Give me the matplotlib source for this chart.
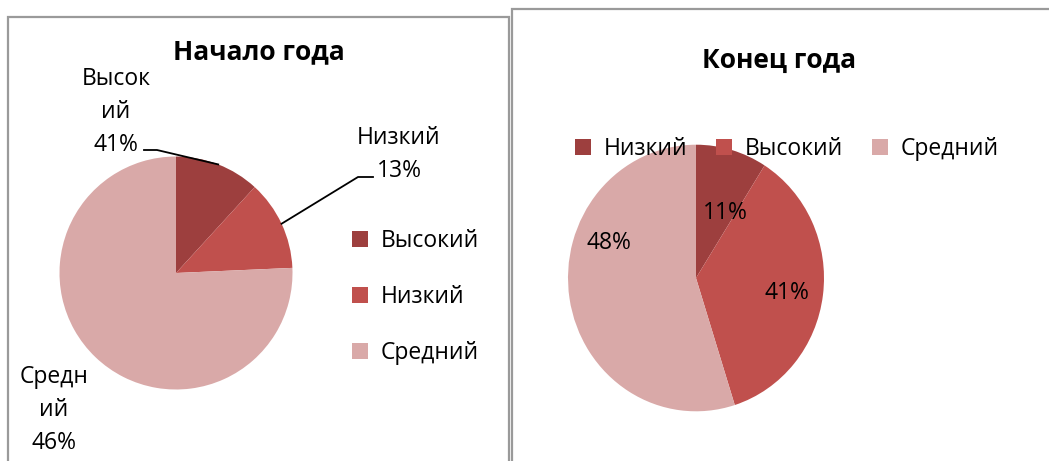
import matplotlib
matplotlib.use("Agg")
import matplotlib.pyplot as plt
from matplotlib.patches import Rectangle
import numpy as np

plt.rcParams['font.family'] = ['Open Sans', 'DejaVu Sans']

W, H = 1049, 461

# left chart: "Начало года"
start_title = "Начало года"
start_cats = ["Высокий", "Низкий", "Средний"]
start_share = [11.8, 12.5, 75.7]          # slice sizes as drawn
start_labels = ["Высок\nий\n41%", "Низкий\n13%", "Средн\nий\n46%"]

# right chart: "Конец года"
end_title = "Конец года"
end_cats = ["Низкий", "Высокий", "Средний"]
end_share = [9.0, 36.1, 54.9]             # slice sizes as drawn
end_labels = ["11%", "41%", "48%"]

colors = ["#9d3f3e", "#c0504d", "#d9a9a8"]


def fx(x):
    return x / W


def fy(y):
    return 1 - y / H


fig = plt.figure(figsize=(W / 100, H / 100), dpi=100)

# panel borders
fig.patches.append(Rectangle((fx(8), fy(470)), fx(509) - fx(8), fy(17) - fy(470),
                             transform=fig.transFigure, fill=False,
                             edgecolor="#9a9a9a", lw=1.6))
fig.patches.append(Rectangle((fx(512), fy(470)), fx(1060) - fx(512), fy(9) - fy(470),
                             transform=fig.transFigure, fill=False,
                             edgecolor="#9a9a9a", lw=1.6))

lab_fs = 16.5
title_fs = 19

# ---- left pie
cx1, cy1, r1 = 176, 273, 116.5
ax1 = fig.add_axes([fx(cx1 - r1), fy(cy1 + r1), 2 * r1 / W, 2 * r1 / H])
w1, _ = ax1.pie(start_share, colors=colors, startangle=90, counterclock=False,
                wedgeprops=dict(linewidth=0))
ax1.set_xlim(-1, 1)
ax1.set_ylim(-1, 1)
ax1.set_aspect("auto")


def p1(x, y):
    return (x - cx1) / r1, (cy1 - y) / r1


# leader lines end at the middle of each slice's rim
leaders = {0: [(144, 150), (157, 150)], 1: [(373, 177), (358, 177)]}
for i, pts in leaders.items():
    th = np.deg2rad((w1[i].theta1 + w1[i].theta2) / 2)
    xs = [p1(*p)[0] for p in pts] + [np.cos(th)]
    ys = [p1(*p)[1] for p in pts] + [np.sin(th)]
    ax1.plot(xs, ys, color="black", lw=1.3, clip_on=False)

fig.text(fx(116), fy(112), start_labels[0], ha="center", va="center",
         fontsize=lab_fs, linespacing=1.5)
fig.text(fx(399), fy(154), start_labels[1], ha="center", va="center",
         fontsize=lab_fs, linespacing=1.5)
fig.text(fx(54), fy(410), start_labels[2], ha="center", va="center",
         fontsize=lab_fs, linespacing=1.5)

fig.text(fx(259), fy(52), start_title, ha="center", va="center",
         fontsize=title_fs, fontweight="bold")

ax1.legend(w1, start_cats, loc="center left",
           bbox_to_anchor=(fx(352), fy(297)), bbox_transform=fig.transFigure,
           frameon=False, fontsize=lab_fs, borderpad=0, borderaxespad=0,
           handlelength=0.68, handleheight=0.68, handletextpad=0.58,
           labelspacing=1.39)

# ---- right pie
cx2, cy2, rx2, ry2 = 696, 278, 128, 133.3
ax2 = fig.add_axes([fx(cx2 - rx2), fy(cy2 + ry2), 2 * rx2 / W, 2 * ry2 / H])
w2, _ = ax2.pie(end_share, colors=colors, startangle=90, counterclock=False,
                wedgeprops=dict(linewidth=0))
ax2.set_xlim(-1, 1)
ax2.set_ylim(-1, 1)
ax2.set_aspect("auto")

for txt, (x, y) in zip(end_labels, [(725, 213), (787, 293), (609, 243)]):
    fig.text(fx(x), fy(y), txt, ha="center", va="center", fontsize=lab_fs)

fig.text(fx(779), fy(60), end_title, ha="center", va="center",
         fontsize=title_fs, fontweight="bold")

ax2.legend(w2, end_cats, loc="center left", ncol=3,
           bbox_to_anchor=(fx(575), fy(149)), bbox_transform=fig.transFigure,
           frameon=False, fontsize=lab_fs, borderpad=0, borderaxespad=0,
           handlelength=0.68, handleheight=0.68, handletextpad=0.58,
           columnspacing=1.25)

fig.savefig("out.png", dpi=100)
